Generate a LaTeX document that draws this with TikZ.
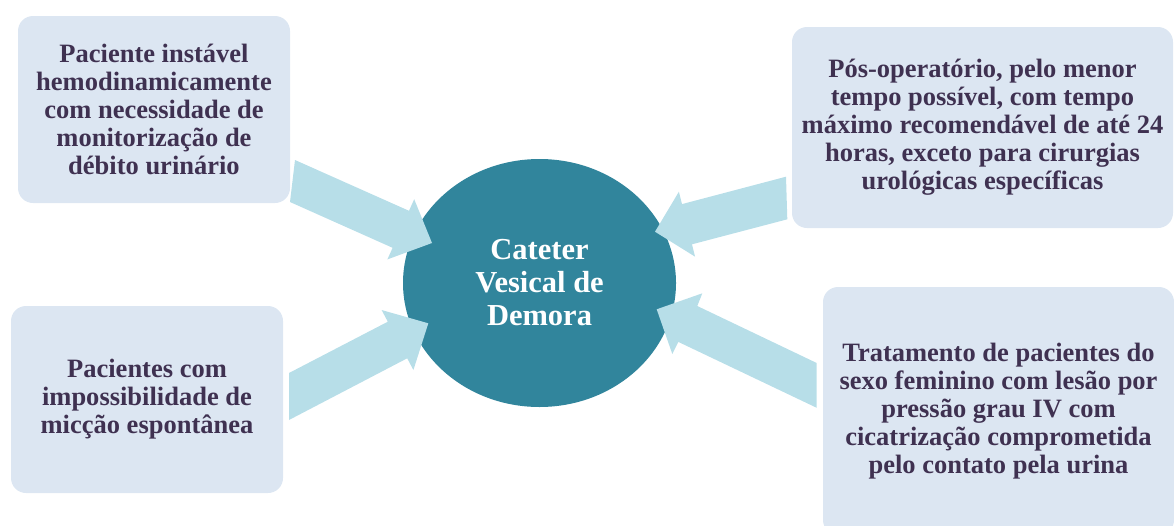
\documentclass[tikz,border=0pt]{standalone}
\usepackage{fontspec}
\setmainfont{Liberation Serif}
\usetikzlibrary{shapes.geometric}
\definecolor{boxfill}{HTML}{DCE6F2}
\definecolor{boxtext}{HTML}{3F3151}
\definecolor{hubfill}{HTML}{31859C}
\definecolor{arrowfill}{HTML}{B7DEE8}
\tikzset{
  infobox/.style={rectangle, rounded corners=15pt, fill=boxfill, text=boxtext,
    inner sep=0pt, align=center, font=\bfseries\fontsize{26.5}{28}\selectfont},
  hub/.style={ellipse, fill=hubfill, text=white, inner sep=0pt,
    minimum width=273pt, minimum height=248pt, align=center,
    font=\bfseries\fontsize{30.5}{33}\selectfont},
  blockarrow/.style={fill=arrowfill}
}
\begin{document}
\begin{tikzpicture}[x=1pt,y=-1pt]
\useasboundingbox (0,0) rectangle (1174,525);
% hub
\node[hub] (hub) at (539.5,283) {Cateter\\Vesical de\\Demora};
% arrows
\fill[blockarrow] (295,160) -- (409,210.8) -- (414.2,199.2) -- (432,243) -- (387.4,259.4) -- (392.6,247.8) -- (290,202) -- cycle;
\fill[blockarrow] (289,373) -- (387.8,321.7) -- (381.6,310) -- (428.3,323.3) -- (413.4,370) -- (407.2,358.3) -- (289,420) -- cycle;
\fill[blockarrow] (786,176.7) -- (682,204.1) -- (678.9,191.7) -- (655,231.7) -- (695.1,256.7) -- (692,244.3) -- (787.3,219.3) -- cycle;
\fill[blockarrow] (816.7,363) -- (697.3,306) -- (702.3,293.3) -- (656.7,309.3) -- (672.3,354) -- (678.3,341.9) -- (816.7,407.8) -- cycle;
% boxes
\node[infobox, minimum width=272pt, minimum height=187pt] (b1) at (154,109.5)
  {Paciente instável\\hemodinamicamente\\com necessidade de\\monitorização de\\débito urinário};
\node[infobox, minimum width=272pt, minimum height=187pt] (b2) at (147,399.5)
  {Pacientes com\\impossibilidade de\\micção espontânea};
\node[infobox, minimum width=381pt, minimum height=201pt] (b3) at (982.5,127.5)
  {Pós-operatório, pelo menor\\tempo possível, com tempo\\máximo recomendável de até 24\\horas, exceto para cirurgias\\urológicas específicas};
\node[infobox, minimum width=351pt, minimum height=248pt] (b4) at (998.5,411)
  {Tratamento de pacientes do\\sexo feminino com lesão por\\pressão grau IV com\\cicatrização comprometida\\pelo contato pela urina};
\end{tikzpicture}
\end{document}
